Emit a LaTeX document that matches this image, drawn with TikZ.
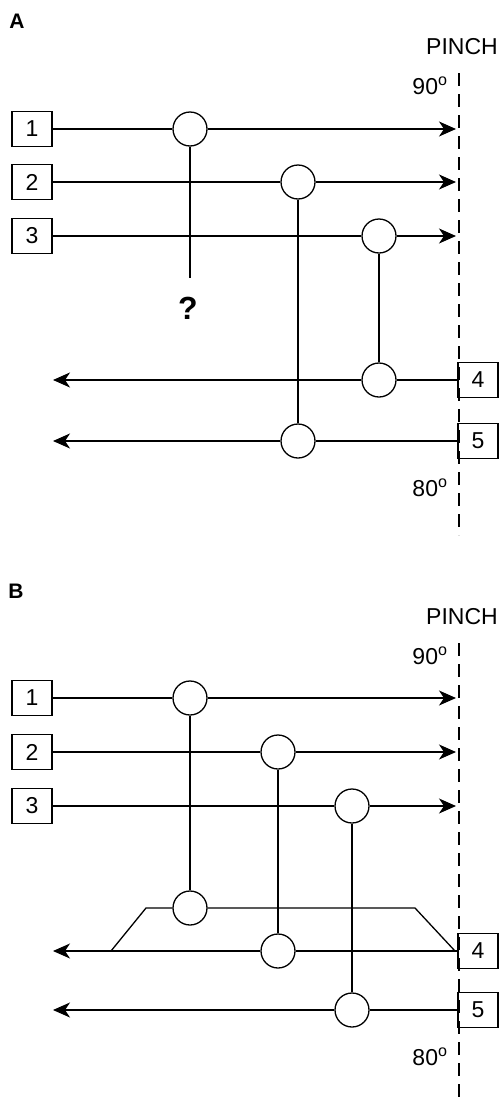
\documentclass[tikz,border=0pt]{standalone}
\usepackage{fontspec}
\setmainfont{Liberation Sans}
\usetikzlibrary{arrows.meta}

\begin{document}
\begin{tikzpicture}[x=1pt, y=-1pt, line width=1.3pt,
    font=\fontsize{23}{27}\selectfont,
    >={Stealth[length=17pt, width=15pt, inset=5pt]},
    stream/.style={draw, rectangle, minimum width=40pt, minimum height=35pt, inner sep=0pt},
    hx/.style={draw, circle, fill=white, minimum size=34pt, inner sep=0pt},
    pinch/.style={line width=2pt, dash pattern=on 13pt off 8pt},
    panel/.style={font=\fontsize{21}{24}\selectfont\bfseries}]
  \useasboundingbox (0,0) rectangle (501,1103);

  % ---------- panel A ----------
  \node[panel] (lblA) at (17,21) {A};
  \node (pinchA) at (462,47) {PINCH};
  \node (hotA) at (430,86) {90\textsuperscript{o}};
  \node (coldA) at (430,488) {80\textsuperscript{o}};
  \coordinate (topA) at (459,73);
  \coordinate (botA) at (459,535);
  \draw[pinch] (topA) -- (botA);

  % hot streams left, cold streams right
  \foreach \n/\y in {1/129, 2/182, 3/236}
      {\node[stream] (sA\n) at (32,\y) {\n};
       \coordinate (tA\n) at (456,\y);}
  \node[stream] (sA4) at (478,380) {4};
  \node[stream] (sA5) at (478,441) {5};
  \coordinate (tA4) at (53,380);
  \coordinate (tA5) at (53,441);

  % exchangers
  \node[hx] (xA1) at (190,129) {};
  \node[hx] (xA2) at (298,182) {};
  \node[hx] (xA3) at (379,236) {};
  \node[hx] (xA4) at (379,380) {};
  \node[hx] (xA5) at (298,441) {};

  \draw (sA1) -- (xA1); \draw[->] (xA1) -- (tA1);
  \draw (sA2) -- (xA2); \draw[->] (xA2) -- (tA2);
  \draw (sA3) -- (xA3); \draw[->] (xA3) -- (tA3);
  \draw (sA4) -- (xA4); \draw[->] (xA4) -- (tA4);
  \draw (sA5) -- (xA5); \draw[->] (xA5) -- (tA5);

  % matches, stream 1 left unmatched
  \node[font=\fontsize{32}{36}\selectfont\bfseries] (qA) at (188,308) {?};
  \coordinate (qtop) at (190,278);
  \draw (xA1) -- (qtop);
  \draw (xA2) -- (xA5);
  \draw (xA3) -- (xA4);

  % ---------- panel B ----------
  \node[panel] (lblB) at (16,591) {B};
  \node (pinchB) at (462,617) {PINCH};
  \node (hotB) at (430,656) {90\textsuperscript{o}};
  \node (coldB) at (430,1057) {80\textsuperscript{o}};
  \coordinate (topB) at (459,643);
  \coordinate (botB) at (459,1103);
  \draw[pinch] (topB) -- (botB);

  \foreach \n/\y in {1/698, 2/752, 3/806}
      {\node[stream] (sB\n) at (32,\y) {\n};
       \coordinate (tB\n) at (456,\y);}
  \node[stream] (sB4) at (478,951) {4};
  \node[stream] (sB5) at (478,1010) {5};
  \coordinate (tB4) at (53,951);
  \coordinate (tB5) at (53,1010);

  \node[hx] (xB1) at (190,698) {};
  \node[hx] (xB2) at (278,752) {};
  \node[hx] (xB3) at (352,806) {};
  \node[hx] (xB4) at (190,908) {};
  \node[hx] (xB5) at (278,951) {};
  \node[hx] (xB6) at (352,1010) {};

  \draw (sB1) -- (xB1); \draw[->] (xB1) -- (tB1);
  \draw (sB2) -- (xB2); \draw[->] (xB2) -- (tB2);
  \draw (sB3) -- (xB3); \draw[->] (xB3) -- (tB3);
  \draw (sB4) -- (xB5); \draw[->] (xB5) -- (tB4);
  \draw (sB5) -- (xB6); \draw[->] (xB6) -- (tB5);

  % split branch of stream 4
  \coordinate (spL) at (111,951);
  \coordinate (spL2) at (146,908);
  \coordinate (spR2) at (415,908);
  \coordinate (spR) at (455,951);
  \draw (spL) -- (spL2) -- (xB4) -- (spR2) -- (spR);

  \draw (xB1) -- (xB4);
  \draw (xB2) -- (xB5);
  \draw (xB3) -- (xB6);
\end{tikzpicture}
\end{document}
